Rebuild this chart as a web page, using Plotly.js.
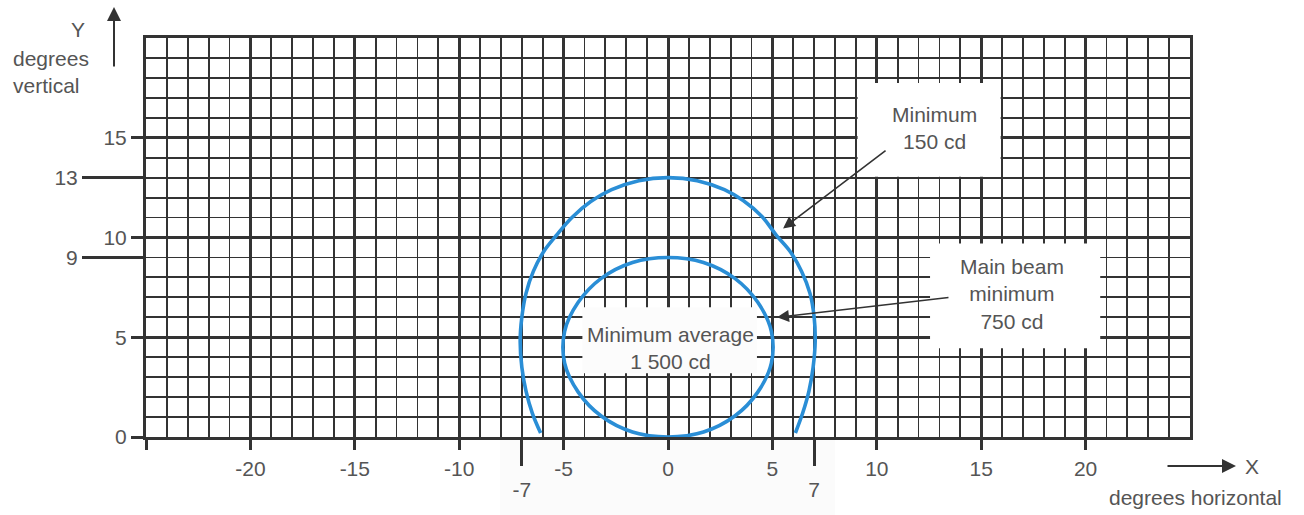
<!DOCTYPE html>
<html>
<head>
<meta charset="utf-8">
<script src="https://cdn.plot.ly/plotly-3.0.1.min.js"></script>
<style>
html,body{margin:0;padding:0;background:#fff;}
#chart{width:1304px;height:515px;}
</style>
</head>
<body>
<div id="chart"></div>
<script>
// ---- data ----
// outer contour: Minimum 150 cd (degrees horizontal, degrees vertical)
var outerX = [-6.1, -6.5, -6.8, -7.0, -7.08, -7.0, -6.8, -6.45, -5.95, -5.35, -4.6, -3.7, -2.7, -1.4, 0, 1.4, 2.7, 3.6, 4.5, 5.2, 5.85, 6.4, 6.8, 7.0, 7.05, 6.95, 6.75, 6.45, 6.1];
var outerY = [0.2, 1.2, 2.3, 3.5, 4.8, 6.0, 7.2, 8.3, 9.3, 10.1, 11.0, 11.8, 12.4, 12.85, 13, 12.85, 12.4, 11.85, 11.05, 10.1, 9.3, 8.3, 7.2, 6.0, 4.8, 3.5, 2.3, 1.2, 0.2];
// inner contour: Main beam minimum 750 cd
var innerX = [0, 1.7, 3.2, 4.3, 4.95, 4.95, 4.3, 3.2, 1.7, 0, -1.7, -3.2, -4.3, -4.95, -4.95, -4.3, -3.2, -1.7, 0];
var innerY = [0, 0.25, 1.05, 2.25, 3.7, 5.3, 6.75, 7.95, 8.75, 9, 8.75, 7.95, 6.75, 5.3, 3.7, 2.25, 1.05, 0.25, 0];
// tick labels
var xTickVals = [-25, -20, -15, -10, -5, 0, 5, 10, 15, 20];
var xTickText = ['', '-20', '-15', '-10', '-5', '0', '5', '10', '15', '20'];
var xExtraVals = [-7, 7];
var xExtraText = ['-7', '7'];
var yTickVals = [0, 5, 10, 15];
var yTickText = ['0', '5', '10', '15'];
var yExtraVals = [9, 13];
var yExtraText = ['9', '13'];
// labels
var labelOuter = 'Minimum<br>150 cd';
var labelInner = 'Main beam<br>minimum<br>750 cd';
var labelAvg = 'Minimum average<br>1 500 cd';

// ---- styles ----
var FONT = 'Liberation Sans, Arial, sans-serif';
var TXT = '#555555';
var DARK = '#333333';
var BLUE = '#2a8ed6';
var FS = 21;

var traces = [
  {x: outerX, y: outerY, mode: 'lines', line: {color: BLUE, width: 3.6, shape: 'spline', smoothing: 1}, hoverinfo: 'skip', showlegend: false},
  {x: innerX, y: innerY, mode: 'lines', line: {color: BLUE, width: 3.6, shape: 'spline', smoothing: 1}, hoverinfo: 'skip', showlegend: false},
  {x: [null], y: [null], xaxis: 'x2', yaxis: 'y', mode: 'markers', hoverinfo: 'skip', showlegend: false},
  {x: [null], y: [null], xaxis: 'x', yaxis: 'y2', mode: 'markers', hoverinfo: 'skip', showlegend: false}
];

function pax(px) { return (px - 146) / 1044; }
function pay(py) { return (437 - py) / 399; }

var layout = {
  width: 1304, height: 515,
  margin: {l: 146, r: 114, t: 38, b: 78, pad: 0},
  paper_bgcolor: '#ffffff',
  plot_bgcolor: '#ffffff',
  font: {family: FONT, size: FS, color: TXT},
  showlegend: false,
  xaxis: {
    range: [-25, 25], tickmode: 'array', tickvals: xTickVals, ticktext: xTickText,
    ticks: 'outside', ticklen: 10, tickwidth: 3, tickcolor: DARK,
    showgrid: true, gridcolor: DARK, gridwidth: 3,
    minor: {tickmode: 'linear', tick0: 0, dtick: 1, showgrid: true, gridcolor: '#333333', gridwidth: 1.8, ticks: ''},
    showline: true, linecolor: DARK, linewidth: 3, mirror: true,
    zeroline: false, fixedrange: true, tickfont: {size: FS, color: TXT}, ticklabelstandoff: 1
  },
  xaxis2: {
    overlaying: 'x', anchor: 'y', side: 'bottom', range: [-25, 25],
    tickmode: 'array', tickvals: xExtraVals, ticktext: xExtraText,
    ticks: 'outside', ticklen: 28, tickwidth: 3, tickcolor: DARK,
    showgrid: false, zeroline: false, showline: false, fixedrange: true,
    tickfont: {size: FS, color: TXT}, ticklabelstandoff: 6
  },
  yaxis: {
    range: [0, 20], tickmode: 'array', tickvals: yTickVals, ticktext: yTickText,
    ticks: 'outside', ticklen: 12, tickwidth: 3, tickcolor: DARK,
    showgrid: true, gridcolor: DARK, gridwidth: 3,
    minor: {tickmode: 'linear', tick0: 0, dtick: 1, showgrid: true, gridcolor: '#333333', gridwidth: 1.8, ticks: ''},
    showline: true, linecolor: DARK, linewidth: 3, mirror: true,
    zeroline: false, fixedrange: true, tickfont: {size: FS, color: TXT}
  },
  yaxis2: {
    overlaying: 'y', anchor: 'x', side: 'left', range: [0, 20],
    tickmode: 'array', tickvals: yExtraVals, ticktext: yExtraText,
    ticks: 'outside', ticklen: 63, tickwidth: 3, tickcolor: DARK,
    showgrid: false, zeroline: false, showline: false, fixedrange: true,
    tickfont: {size: FS, color: TXT}
  },
  shapes: [
    {type: 'rect', xref: 'x', yref: 'y', x0: 9.08, x1: 15.93, y0: 13.05, y1: 17.75, fillcolor: '#ffffff', line: {width: 0}, layer: 'between'},
    {type: 'rect', xref: 'x', yref: 'y', x0: 12.55, x1: 20.7, y0: 4.45, y1: 9.7, fillcolor: '#ffffff', line: {width: 0}, layer: 'between'},
    {type: 'rect', xref: 'x', yref: 'y', x0: -4.1, x1: 4.26, y0: 3.2, y1: 6.5, fillcolor: '#fcfcfc', line: {width: 0}, layer: 'between'},
    {type: 'rect', xref: 'paper', yref: 'paper', x0: pax(500), x1: pax(835), y0: -78 / 399, y1: 0, fillcolor: '#fbfbfb', line: {width: 0}, layer: 'below'}
  ],
  annotations: [
    {xref: 'x', yref: 'y', x: 12.74, y: 15.5, text: labelOuter, showarrow: false, xanchor: 'center', yanchor: 'middle', font: {size: FS, color: TXT}, align: 'center'},
    {xref: 'x', yref: 'y', x: 16.48, y: 7.15, text: labelInner, showarrow: false, xanchor: 'center', yanchor: 'middle', font: {size: FS, color: TXT}, align: 'center'},
    {xref: 'x', yref: 'y', x: 0.1, y: 4.45, text: labelAvg, showarrow: false, xanchor: 'center', yanchor: 'middle', font: {size: FS, color: TXT}, align: 'center'},
    // arrows
    {xref: 'x', yref: 'y', x: 5.51, y: 10.45, ax: 104, ay: -79, text: '', showarrow: true, arrowhead: 2, arrowsize: 1.5, arrowwidth: 1.6, arrowcolor: DARK},
    {xref: 'x', yref: 'y', x: 5.22, y: 6.0, ax: 173, ay: -20, text: '', showarrow: true, arrowhead: 2, arrowsize: 1.5, arrowwidth: 1.6, arrowcolor: DARK},
    // axis arrows and titles
    {xref: 'paper', yref: 'paper', x: pax(114), y: pay(7), ax: 0, ay: 61, text: '', showarrow: true, arrowhead: 2, arrowsize: 1.4, arrowwidth: 2, arrowcolor: DARK},
    {xref: 'paper', yref: 'paper', x: pax(1236), y: pay(466), ax: -70, ay: 0, text: '', showarrow: true, arrowhead: 2, arrowsize: 1.4, arrowwidth: 2, arrowcolor: DARK},
    {xref: 'paper', yref: 'paper', x: pax(78), y: pay(29), xanchor: 'center', yanchor: 'middle', text: 'Y', showarrow: false, font: {size: FS, color: TXT}},
    {xref: 'paper', yref: 'paper', x: pax(11), y: pay(72.5), xanchor: 'left', yanchor: 'middle', text: 'degrees<br>vertical', align: 'left', showarrow: false, font: {size: FS, color: TXT}},
    {xref: 'paper', yref: 'paper', x: pax(1252), y: pay(466), xanchor: 'center', yanchor: 'middle', text: 'X', showarrow: false, font: {size: FS, color: TXT}},
    {xref: 'paper', yref: 'paper', x: pax(1195), y: pay(497), xanchor: 'center', yanchor: 'middle', text: 'degrees horizontal', showarrow: false, font: {size: FS, color: TXT}}
  ]
};

Plotly.newPlot('chart', traces, layout, {displayModeBar: false, staticPlot: true});
</script>
</body>
</html>
